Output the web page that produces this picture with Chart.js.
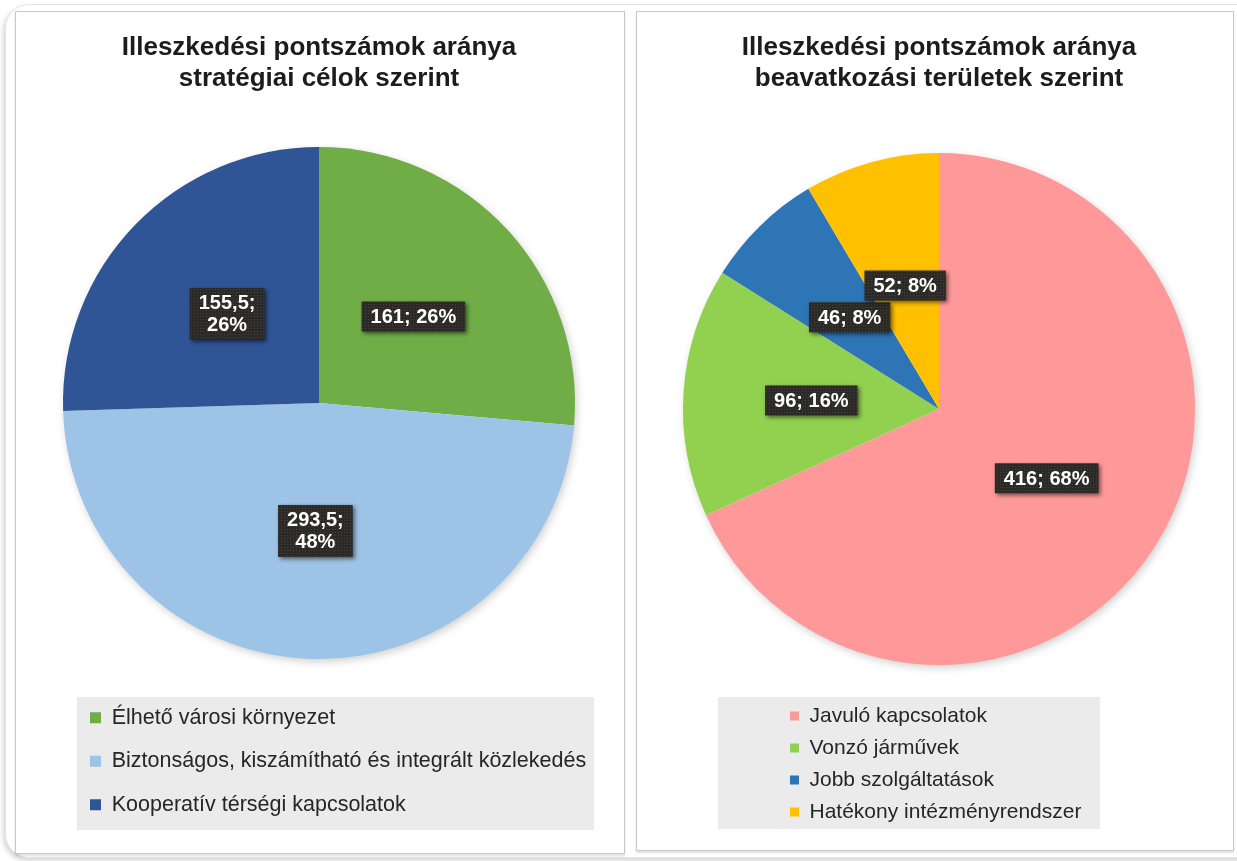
<!DOCTYPE html>
<html>
<head>
<meta charset="utf-8">
<script src="https://cdn.jsdelivr.net/npm/chart.js@4.4.1/dist/chart.umd.min.js"></script>
<style>
html, body { margin: 0; padding: 0; background: #fff; width: 1237px; height: 861px; overflow: hidden; position: relative; }
#frame { position: absolute; left: 5px; top: 4px; width: 1262px; height: 852px; border: 1px solid #e4e4e4; border-radius: 24px; box-shadow: -2px 3px 5px rgba(0,0,0,0.16); background: #fff; }
.panel { position: absolute; background: #fff; border: 1px solid #c8c8c8; box-shadow: 0 2px 2px rgba(0,0,0,0.12); }
#pl { left: 15px; top: 11px; width: 608px; height: 841px; }
#pr { left: 636px; top: 11px; width: 596px; height: 838px; }
canvas { position: absolute; }
#cl { left: 16px; top: 12px; }
#cr { left: 645px; top: 12px; }
</style>
</head>
<body>
<div id="frame"></div>
<div class="panel" id="pl"></div>
<div class="panel" id="pr"></div>
<canvas id="cl" width="606" height="836"></canvas>
<canvas id="cr" width="588" height="836"></canvas>
<script>
// ---------- data ----------
const leftTitle = ['Illeszkedési pontszámok aránya', 'stratégiai célok szerint'];
const leftCategories = ['Élhető városi környezet', 'Biztonságos, kiszámítható és integrált közlekedés', 'Kooperatív térségi kapcsolatok'];
const leftValues = [161, 293.5, 155.5];
const leftPercents = [26, 48, 26];
const leftColors = ['#70AD47', '#9DC3E6', '#2F5597'];

const rightTitle = ['Illeszkedési pontszámok aránya', 'beavatkozási területek szerint'];
const rightCategories = ['Javuló kapcsolatok', 'Vonzó járművek', 'Jobb szolgáltatások', 'Hatékony intézményrendszer'];
const rightValues = [416, 96, 46, 52];
const rightPercents = [68, 16, 8, 8];
const rightColors = ['#FF9999', '#92D050', '#2E75B6', '#FFC000'];

// ---------- helpers ----------
const FONT = '"Liberation Sans", Arial, Helvetica, sans-serif';
const fmt = v => String(v).replace('.', ',');

function labelPattern(ctx) {
  const c = document.createElement('canvas');
  c.width = 3; c.height = 3;
  const g = c.getContext('2d');
  g.fillStyle = '#2b2a28'; g.fillRect(0, 0, 3, 3);
  g.fillStyle = '#4a4034'; g.fillRect(1, 1, 1, 1);
  return ctx.createPattern(c, 'repeat');
}

const placeLegendPlugin = {
  id: 'placeLegend',
  afterLayout(chart, args, o) {
    const lg = chart.legend, ca = chart.chartArea;
    if (!lg) return;
    lg.left = o.x;
    lg.top = ca.bottom + o.dy;
    lg.right = chart.width;
    lg.bottom = chart.height;
    lg.width = lg.right - lg.left;
    lg.height = lg.bottom - lg.top;
  },
  beforeDraw(chart, args, o) {
    const ca = chart.chartArea, ctx = chart.ctx;
    ctx.save();
    ctx.fillStyle = o.bg;
    ctx.fillRect(o.box.x, ca.bottom + o.box.dy, o.box.w, o.box.h);
    ctx.restore();
  }
};

const pieShadowPlugin = {
  id: 'pieShadow',
  beforeDatasetsDraw(chart, args, o) {
    const a = chart.getDatasetMeta(0).data[0];
    if (!a) return;
    const ctx = chart.ctx;
    ctx.save();
    ctx.shadowColor = o.color; ctx.shadowBlur = o.blur;
    ctx.shadowOffsetX = o.dx; ctx.shadowOffsetY = o.dy;
    ctx.beginPath();
    ctx.arc(a.x, a.y, a.outerRadius - 1, 0, Math.PI * 2);
    ctx.fillStyle = '#ffffff';
    ctx.fill();
    ctx.restore();
  }
};

const sliceLabelPlugin = {
  id: 'sliceLabels',
  afterDatasetsDraw(chart, args, o) {
    const ctx = chart.ctx;
    const meta = chart.getDatasetMeta(0);
    const values = chart.data.datasets[0].data;
    const pat = labelPattern(ctx);
    ctx.save();
    ctx.font = 'bold ' + o.size + 'px ' + FONT;
    meta.data.forEach((arc, i) => {
      const one = fmt(values[i]) + '; ' + o.percents[i] + '%';
      let lines = [one];
      if (ctx.measureText(one).width > o.wrapAt) lines = [fmt(values[i]) + ';', o.percents[i] + '%'];
      const w = Math.max(...lines.map(l => ctx.measureText(l).width)) + 2 * o.padX;
      const h = lines.length * o.lineH + 2 * o.padY;
      const p = arc.getCenterPoint();
      const x0 = p.x - w / 2, y0 = p.y - h / 2;
      ctx.save();
      ctx.shadowColor = 'rgba(0,0,0,0.55)';
      ctx.shadowBlur = 4; ctx.shadowOffsetX = 2; ctx.shadowOffsetY = 2;
      ctx.fillStyle = pat;
      ctx.fillRect(x0, y0, w, h);
      ctx.restore();
      ctx.fillStyle = '#ffffff';
      ctx.textAlign = 'center';
      ctx.textBaseline = 'middle';
      lines.forEach((l, k) => {
        ctx.fillText(l, p.x, y0 + o.padY + o.lineH * (k + 0.5) + 1);
      });
    });
    ctx.restore();
  }
};

function makePie(id, title, cats, vals, colors, pcts, cfg) {
  return new Chart(document.getElementById(id), {
    type: 'pie',
    data: {
      labels: cats,
      datasets: [{ data: vals, backgroundColor: colors, borderWidth: 0, hoverOffset: 0 }]
    },
    plugins: [pieShadowPlugin, placeLegendPlugin, sliceLabelPlugin],
    options: {
      responsive: false,
      animation: false,
      devicePixelRatio: 1,
      events: [],
      layout: { padding: { top: 0, left: 0, right: 0, bottom: cfg.padBottom } },
      plugins: {
        title: {
          display: true,
          text: title,
          color: '#1c1c1c',
          font: { family: FONT, size: 26, weight: 'bold', lineHeight: 1.2 },
          padding: { top: 20.5, bottom: cfg.titleBottom }
        },
        legend: {
          display: true,
          position: 'chartArea',
          fullSize: false,
          align: 'start',
          labels: {
            color: '#262626',
            font: { family: FONT, size: cfg.legendSize },
            boxWidth: cfg.box, boxHeight: cfg.box,
            padding: cfg.legendPad
          }
        },
        tooltip: { enabled: false },
        placeLegend: { x: cfg.legendX, dy: cfg.legendDy, bg: '#ebebeb', box: cfg.bgBox },
        pieShadow: { color: 'rgba(0,0,0,0.22)', blur: 10, dx: 2, dy: 3 },
        sliceLabels: { percents: pcts, size: 20, padX: 9, padY: 4, lineH: 22, wrapAt: 95 }
      }
    }
  });
}

makePie('cl', leftTitle, leftCategories, leftValues, leftColors, leftPercents, {
  padBottom: 189, titleBottom: 52.1,
  legendSize: 21.5, box: 11, legendPad: 22,
  legendX: 52, legendDy: 26,
  bgBox: { x: 61, dy: 38, w: 517, h: 133 }
});

makePie('cr', rightTitle, rightCategories, rightValues, rightColors, rightPercents, {
  padBottom: 183, titleBottom: 58.1,
  legendSize: 21, box: 9, legendPad: 11,
  legendX: 134, legendDy: 29.5,
  bgBox: { x: 73, dy: 32, w: 382, h: 132 }
});
</script>
</body>
</html>
